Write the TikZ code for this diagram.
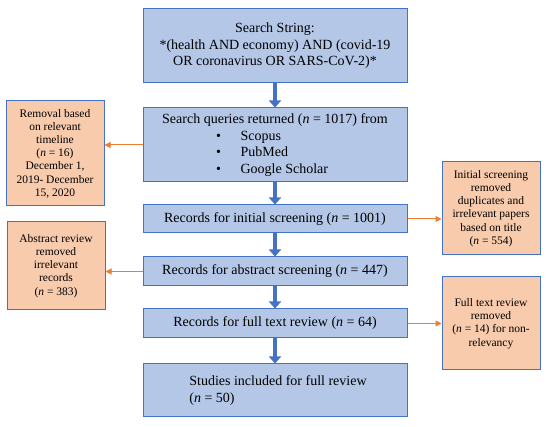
\documentclass[tikz,border=0pt]{standalone}
\usepackage{fontspec}
\setmainfont{Liberation Serif}
\usepackage{tikz}
\usetikzlibrary{arrows.meta,positioning,calc}
\definecolor{flowblue}{RGB}{68,114,196}
\definecolor{flowfill}{RGB}{180,199,231}
\definecolor{sidefill}{RGB}{248,203,173}
\definecolor{sideline}{RGB}{237,125,49}
\tikzset{
  mainbox/.style={draw=flowblue,fill=flowfill,line width=1pt,minimum width=264pt,
    inner sep=0pt,font=\fontsize{14}{16.5}\selectfont},
  sidebox/.style={draw=flowblue,fill=sidefill,line width=1pt,minimum width=98pt,
    inner sep=0pt,align=center,font=\fontsize{11.5}{13.2}\selectfont},
  flowarrow/.style={draw=flowblue,line width=4.5pt,-{Triangle[length=7pt,width=12pt]}},
  sidearrow/.style={draw=sideline,line width=1pt,-{Triangle[length=6pt,width=6pt]}}
}
\begin{document}
\begin{tikzpicture}[x=1pt,y=-1pt]
    \useasboundingbox (0,0) rectangle (550,427);
    % main flow
    \node[mainbox,minimum height=74pt,align=center] (search) at (275,46)
      {Search String:\\*(health AND economy) AND (covid-19\\OR coronavirus OR SARS-CoV-2)*};
    \node[mainbox,minimum height=74pt,align=left] (queries) at (275,145)
      {Search queries returned (\textit{n} = 1017) from\\
       \hspace*{3.85em}\textbullet\hspace{1.4em}Scopus\\
       \hspace*{3.85em}\textbullet\hspace{1.4em}PubMed\\
       \hspace*{3.85em}\textbullet\hspace{1.4em}Google Scholar};
    \node[mainbox,minimum height=28pt] (initial) at (275,219)
      {Records for initial screening (\textit{n} = 1001)};
    \node[mainbox,minimum height=29pt] (abstract) at (275,271.5)
      {Records for abstract screening (\textit{n} = 447)};
    \node[mainbox,minimum height=29pt] (fulltext) at (275,323.5)
      {Records for full text review (\textit{n} = 64)};
    \node[mainbox,minimum height=53pt,align=left] (included) at (275,390.5)
      {\hspace*{6pt}Studies included for full review\\\hspace*{6pt}(\textit{n} = 50)};
    % removed records
    \node[sidebox,minimum height=105pt] (timeline) at (55,153.5)
      {Removal based\\on relevant\\timeline\\(\textit{n} = 16)\\December 1,\\2019- December\\15, 2020};
    \node[sidebox,minimum height=88pt] (absrem) at (56,266)
      {Abstract review\\removed\\irrelevant\\records\\(\textit{n} = 383)};
    \node[sidebox,minimum height=93pt] (duplicates) at (491,208.5)
      {Initial screening\\removed\\duplicates and\\irrelevant papers\\based on title\\(\textit{n} = 554)};
    \node[sidebox,minimum height=93pt] (fullrem) at (491,323.5)
      {Full text review\\removed\\(\textit{n} = 14) for non-\\relevancy};
    % connectors
    \draw[flowarrow] (search) -- (queries);
    \draw[flowarrow] (queries) -- (initial);
    \draw[flowarrow] (initial) -- (abstract);
    \draw[flowarrow] (abstract) -- (fulltext);
    \draw[flowarrow] (fulltext) -- (included);
    \draw[sidearrow] (queries.west) -- (queries.west -| timeline.east);
    \draw[sidearrow] (abstract.west) -- (abstract.west -| absrem.east);
    \draw[sidearrow] (initial.east) -- (initial.east -| duplicates.west);
    \draw[sidearrow] (fulltext.east) -- (fulltext.east -| fullrem.west);
  \end{tikzpicture}
\end{document}
